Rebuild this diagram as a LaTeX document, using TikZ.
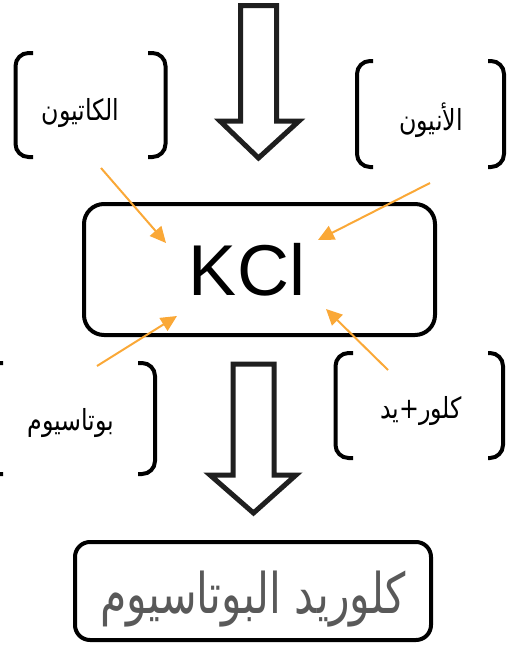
\documentclass[tikz,border=0pt]{standalone}
\usepackage{fontspec}
\usepackage{graphicx}
\setmainfont{Liberation Sans}
\newfontfamily\arabicfont[Script=Arabic]{DejaVu Sans}
\TeXXeTstate=1
\usetikzlibrary{arrows.meta}
\definecolor{orangeline}{RGB}{250,168,55}
\definecolor{greytext}{RGB}{89,89,89}
\newcommand{\labtext}[1]{\scalebox{0.82}[1]{\arabicfont\fontsize{29}{32}\selectfont\beginR #1\endR}}
\begin{document}
\begin{tikzpicture}[x=1pt,y=-1pt,
  box/.style={draw, line width=4pt, rounded corners=20pt, inner sep=0pt},
  bracketline/.style={line width=4pt, rounded corners=13pt},
  blockarrow/.style={draw=black!88, line width=5pt, miter limit=10, fill=white},
  feed/.style={draw=orangeline, line width=2pt, -{Triangle[length=16pt,width=15pt]}},
  lab/.style={anchor=base, inner sep=0pt}]
\useasboundingbox (0,0) rectangle (510,645);

% block arrows
\draw[blockarrow] (240.5,5.5) -- (276.5,5.5) -- (276.5,121) -- (299,121) -- (258.5,158) -- (220,121) -- (240.5,121) -- cycle;
\draw[blockarrow] (233,364) -- (274,364) -- (274,475) -- (296,475) -- (253.5,513) -- (210,475) -- (233,475) -- cycle;

% KCl box
\node[box, minimum width=351pt, minimum height=131pt] (kcl) at (259.5,269.5) {};
\node[font=\fontsize{72}{78}\selectfont, inner sep=0pt] (kcltext) at (247,270) {KCl};

% bottom box
\node[box, rounded corners=15pt, minimum width=356pt, minimum height=98pt] (result) at (253,591) {};
\node[text=greytext, anchor=base, inner sep=0pt] (resulttext) at (253,613) {\scalebox{0.76}[1]{\arabicfont\fontsize{56}{60}\selectfont\beginR كلوريد البوتاسيوم\endR}};

% brackets: cation
\draw[bracketline] (33,53) -- (15.5,53) -- (15.5,157) -- (33,157);
\draw[bracketline] (148,53) -- (165.5,53) -- (165.5,157) -- (148,157);
\node[lab] (cation) at (80.5,120) {\labtext{الكاتيون}};

% anion
\draw[bracketline] (373,61) -- (357,61) -- (357,167) -- (373,167);
\draw[bracketline] (488,61) -- (504,61) -- (504,167) -- (488,167);
\node[lab] (anion) at (431,130) {\labtext{الأنيون}};

% potassium
\draw[bracketline] (3,363) -- (-14,363) -- (-14,474) -- (3,474);
\draw[bracketline] (138,363) -- (155,363) -- (155,474) -- (138,474);
\node[lab] (potassium) at (71,430) {\labtext{بوتاسيوم}};

% chloride
\draw[bracketline] (353,353) -- (335.5,353) -- (335.5,458) -- (353,458);
\draw[bracketline] (488,353) -- (503,353) -- (503,458) -- (488,458);
\node[lab] (chloride) at (421,418) {\labtext{كلور+يد}};

% orange feed arrows
\coordinate (c1s) at (101,168);
\coordinate (c1e) at (166,243);
\coordinate (a1s) at (430,183);
\coordinate (a1e) at (318,240);
\coordinate (p1s) at (97,366);
\coordinate (p1e) at (177,316);
\coordinate (k1s) at (388,370);
\coordinate (k1e) at (326,309);
\draw[feed] (c1s) -- (c1e);
\draw[feed] (a1s) -- (a1e);
\draw[feed] (p1s) -- (p1e);
\draw[feed] (k1s) -- (k1e);
\end{tikzpicture}
\end{document}
